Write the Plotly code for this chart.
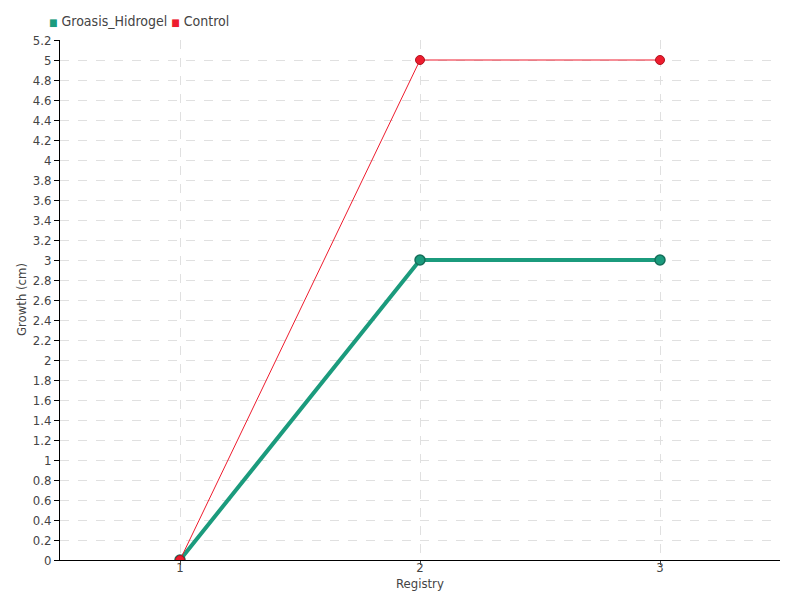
import plotly.graph_objects as go

registry = [1, 2, 3]
groasis_hidrogel = [0, 3, 3]
control = [0, 5, 5]
y_ticks = [round(i * 0.2, 1) for i in range(27)]
y_tick_labels = [("%g" % v) for v in y_ticks]

FONT = "DejaVu Sans Condensed, Liberation Sans Narrow, sans-serif"
GREEN = "#1b9b7d"
RED = "#ee1c2e"

fig = go.Figure()
fig.add_trace(go.Scatter(
    x=registry, y=groasis_hidrogel, name="Groasis_Hidrogel", mode="lines+markers",
    line=dict(color=GREEN, width=4),
    marker=dict(size=10, color=GREEN, line=dict(color="#146f5a", width=1.5)),
))
fig.add_trace(go.Scatter(
    x=registry, y=control, name="Control", mode="lines+markers",
    line=dict(color=RED, width=1),
    marker=dict(size=9, color=RED, line=dict(color="#b0141f", width=1)),
))

legend_text = ("<span style='color:%s;font-size:10px'>■</span> Groasis_Hidrogel "
               "<span style='color:%s;font-size:10px'>■</span> Control") % (GREEN, RED)

fig.update_layout(
    width=800, height=600,
    margin=dict(l=60, r=20, t=40, b=40, autoexpand=False),
    paper_bgcolor="white", plot_bgcolor="white",
    font=dict(family=FONT, size=13, color="#444"),
    showlegend=False,
    annotations=[
        dict(text=legend_text, xref="paper", yref="paper", x=-0.018, y=1 + 19 / 520,
             xanchor="left", yanchor="middle", showarrow=False,
             font=dict(size=14, color="#444")),
        dict(text="Registry", xref="paper", yref="paper", x=0.5, y=-23 / 520,
             xanchor="center", yanchor="middle", showarrow=False,
             font=dict(size=13, color="#444")),
        dict(text="Growth (cm)", xref="paper", yref="paper", x=-39 / 720, y=0.5,
             xanchor="center", yanchor="middle", showarrow=False, textangle=-90,
             font=dict(size=13, color="#444")),
    ],
    xaxis=dict(
        range=[0.5, 3.5], tickvals=registry, ticktext=[str(v) for v in registry],
        showline=True, linecolor="black", linewidth=1,
        ticks="outside", ticklen=4, tickcolor="#444", ticklabelstandoff=-9,
        showgrid=True, gridcolor="#e0e0e0", griddash="dash",
        zeroline=False, automargin=False,
        tickfont=dict(size=13),
    ),
    yaxis=dict(
        range=[0, 5.2], tickvals=y_ticks, ticktext=y_tick_labels,
        showline=True, linecolor="black", linewidth=1,
        ticks="outside", ticklen=5, tickcolor="black",
        showgrid=True, gridcolor="#e0e0e0", griddash="dash",
        zeroline=False, automargin=False,
        tickfont=dict(size=13),
    ),
)

fig.write_html("out.html", config={"displayModeBar": False},
               post_script="document.body.style.margin='0';")
